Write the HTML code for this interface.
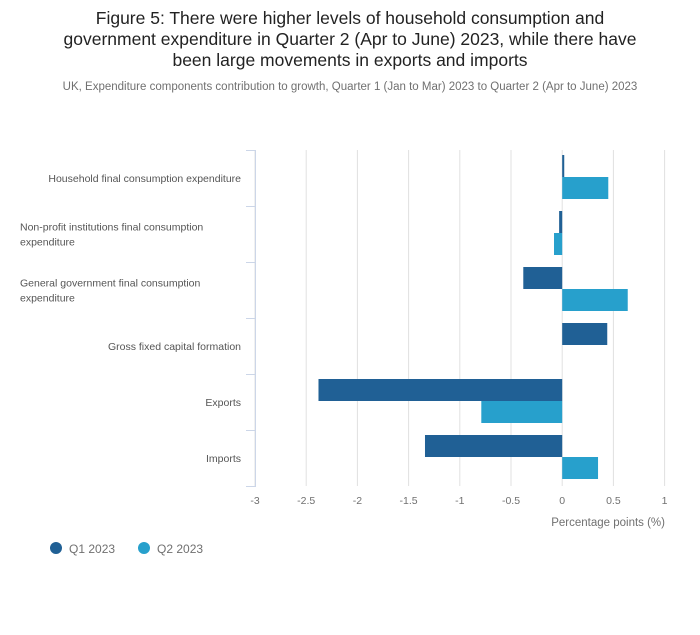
<!DOCTYPE html>
<html><head><meta charset="utf-8"><style>
body{margin:0;background:#fff;width:700px;height:635px;overflow:hidden;font-family:"Liberation Sans",sans-serif;}
#title{position:absolute;left:0;top:8px;width:700px;text-align:center;font-size:17.5px;line-height:21px;color:#222;}
#sub{position:absolute;left:0;top:81px;width:700px;text-align:center;font-size:11.5px;color:#707070;}
svg{position:absolute;left:0;top:0}
</style></head><body>
<div id="title">Figure 5: There were higher levels of household consumption and<br>government expenditure in Quarter 2 (Apr to June) 2023, while there have<br>been large movements in exports and imports</div>
<div id="sub">UK, Expenditure components contribution to growth, Quarter 1 (Jan to Mar) 2023 to Quarter 2 (Apr to June) 2023</div>
<svg id="c" width="700" height="635"></svg>
<script>
const categories=[["Household final consumption expenditure"],["Non-profit institutions final consumption","expenditure"],["General government final consumption","expenditure"],["Gross fixed capital formation"],["Exports"],["Imports"]];
const q1=[0.02,-0.03,-0.38,0.44,-2.38,-1.34];
const q2=[0.45,-0.08,0.64,0,-0.79,0.35];
const ticks=[-3,-2.5,-2,-1.5,-1,-0.5,0,0.5,1];
const svg=document.getElementById('c');const NS='http://www.w3.org/2000/svg';
function mk(t,a,p){const e=document.createElementNS(NS,t);for(const k in a)e.setAttribute(k,a[k]);(p||svg).appendChild(e);return e;}
const x=v=>255+(v+3)*102.4;
const plotTop=150,rowH=56;
ticks.forEach(t=>{
 const l=mk('line',{x1:x(t),x2:x(t),y1:plotTop,y2:plotTop+rowH*6,stroke:'#e0e0e0','stroke-width':1});
 
 
 const tx=mk('text',{x:x(t),y:504,'text-anchor':'middle','font-size':10.5,fill:'#707070'});
 tx.textContent=String(t);
 
 
});
const ax=mk('line',{x1:255.5,x2:255.5,y1:plotTop,y2:plotTop+rowH*6,stroke:'#ccd6e8'});


for(let i=0;i<=6;i++){const tk=mk('line',{x1:246,x2:256,y1:plotTop+i*rowH+0.5,y2:plotTop+i*rowH+0.5,stroke:'#ccd6e8'});
 
 }
categories.forEach((c,i)=>{
 const cy=plotTop+i*rowH+rowH/2;
 const t=mk('text',{x:c.length>1?20:241,y:0,'text-anchor':c.length>1?'start':'end','font-size':10.5,fill:'#555'});
 
 
 c.forEach((s,j)=>{const ts=mk('tspan',{x:c.length>1?20:241,y:cy+4+(j-(c.length-1)/2)*15},t);ts.textContent=s;});
 [[q1,'#206095',5],[q2,'#27a0cc',27]].forEach(([arr,col,off])=>{
  const v=arr[i];if(v===0)return;
  const r=mk('rect',{x:Math.min(x(0),x(v)),y:plotTop+i*rowH+off,width:Math.abs(x(v)-x(0)),height:22,fill:col});
  
  
 });
});
const xt=mk('text',{x:665,y:526,'text-anchor':'end','font-size':11.5,fill:'#707070'});xt.textContent='Percentage points (%)';


[['Q1 2023','#206095',56],['Q2 2023','#27a0cc',144]].forEach(([n,c,lx])=>{
 const g=mk('g',{});
 
 
 mk('circle',{cx:lx,cy:548,r:6,fill:c},g);
 const t=mk('text',{x:lx+13,y:553,'font-size':12,fill:'#707070'},g);t.textContent=n;
});
</script>
</body></html>
